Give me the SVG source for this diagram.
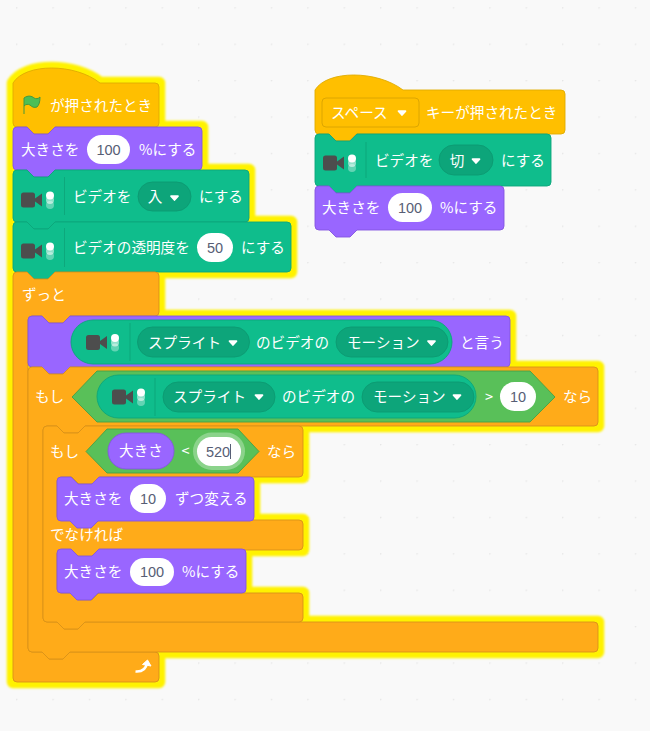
<svg xmlns="http://www.w3.org/2000/svg" width="650" height="731" viewBox="0 0 650 731">
<style>
text{font-family:"Noto Sans CJK JP","Noto Sans",sans-serif;font-size:14.6px;fill:#fff}
text.n{font-family:"Liberation Sans",Arial,sans-serif;font-size:14.5px;fill:#575E75;text-anchor:middle}
text.m{text-anchor:middle}
.hat,.ctl,.look,.vid,.op,.dd,.div{stroke-width:.9}
.hat{fill:#FFBF00;stroke:#E0AC00}
.ctl{fill:#FFAB19;stroke:#D9921A}
.look{fill:#9966FF;stroke:#8456E0}
.vid{fill:#0FBD8C;stroke:#0CA67B}
.op{fill:#59C059;stroke:#46A046}
.dd{fill:#0DA57A;stroke:#0C9A72}
.inp{fill:#fff}
.div{stroke:#0B8E69;stroke-opacity:.5;fill:none}
.glow{fill:#FFF200;stroke:#FFF200;stroke-width:12.5;stroke-linejoin:round}
</style>
<defs>
<pattern id="grid" patternUnits="userSpaceOnUse" x="16" y="80" width="36.4" height="36.4"><circle cx="0.6" cy="0.6" r="0.9" fill="#E6E6E6"/></pattern>
<filter id="soft" x="-5%" y="-5%" width="110%" height="110%"><feGaussianBlur stdDeviation="0.9"/></filter>
<g id="cam">
<rect x="0" y="-7.5" width="14" height="15" rx="2.500" fill="#4D4D4D"/>
<path d="M14 -1.500 L21 -6.500 V6.500 L14 1.500 Z" fill="#4D4D4D"/>
<circle cx="29" cy="5" r="4" fill="#fff" fill-opacity=".35"/>
<circle cx="29" cy="0" r="4" fill="#fff" fill-opacity=".55"/>
<circle cx="29" cy="-4.500" r="4" fill="#fff"/>
</g>
<path id="arr" d="M-3.500 -1.800 H3.500 L0 2 Z" fill="#fff" stroke="#fff" stroke-width="1.700" stroke-linejoin="round"/>
</defs>
<rect width="650" height="731" fill="#F9F9F9"/>
<rect width="650" height="731" fill="url(#grid)"/>

<path class="glow" filter="url(#soft)" d="M13 83 C25 63 75 63 100 83 H159 V127 H202 V170 H249 V222 H291 V272 H159 V316 H510 V367 H598 V426 H303 V477 H254 V520 H303 V550 H246 V593 H303 V622 H598 V652 H159 V682 H13 Z"/>

<g id="hat-flag">
<path class="hat" d="M13 83 C25 63 75 63 100 83 H155 a4 4 0 0 1 4 4 V123 a4 4 0 0 1 -4 4 H55 l-7 7 h-14 l-7 -7 H17 a4 4 0 0 1 -4 -4 Z"/>
<path d="M24 114 V98 C28 95 32 96 34 98 C36 99 38 99 40 97 C40 102 39 105 37 107 C34 108 32 107 30 105 C28 104 26 104 24 106" fill="#4CBF56" stroke="#45993D" stroke-linejoin="round"/>
<text x="50" y="111">が押されたとき</text>
</g>
<g id="size-100-a">
<path class="look" d="M13 131 a4 4 0 0 1 4 -4 H27 l7 7 h14 l7 -7 H198 a4 4 0 0 1 4 4 V166 a4 4 0 0 1 -4 4 H55 l-7 7 h-14 l-7 -7 H17 a4 4 0 0 1 -4 -4 Z"/>
<text x="21" y="155">大きさを</text>
<rect class="inp" x="87" y="135" width="43" height="29" rx="14.500"/>
<text class="n" x="108.500" y="155">100</text>
<text x="139" y="155">%にする</text>
</g>
<g id="video-on">
<path class="vid" d="M13 174 a4 4 0 0 1 4 -4 H27 l7 7 h14 l7 -7 H245 a4 4 0 0 1 4 4 V218 a4 4 0 0 1 -4 4 H55 l-7 7 h-14 l-7 -7 H17 a4 4 0 0 1 -4 -4 Z"/>
<use href="#cam" x="21" y="200"/>
<path class="div" d="M64.500 177 V215"/>
<text x="73" y="202">ビデオを</text>
<rect class="dd" x="138" y="182" width="53" height="29" rx="14.500"/>
<text class="m" x="155" y="202">入</text>
<use href="#arr" x="174.500" y="198"/>
<text x="199" y="202">にする</text>
</g>
<g id="video-transparency">
<path class="vid" d="M13 226 a4 4 0 0 1 4 -4 H27 l7 7 h14 l7 -7 H287 a4 4 0 0 1 4 4 V268 a4 4 0 0 1 -4 4 H55 l-7 7 h-14 l-7 -7 H17 a4 4 0 0 1 -4 -4 Z"/>
<use href="#cam" x="21" y="251"/>
<path class="div" d="M64.500 228 V267"/>
<text x="73" y="253">ビデオの透明度を</text>
<rect class="inp" x="197" y="233" width="36" height="29" rx="14.500"/>
<text class="n" x="215" y="253">50</text>
<text x="241" y="253">にする</text>
</g>
<g id="forever">
<path class="ctl" d="M13 276 a4 4 0 0 1 4 -4 H27 l7 7 h14 l7 -7 H155 a4 4 0 0 1 4 4 V312 a4 4 0 0 1 -4 4 H70 l-7 7 h-14 l-7 -7 H32 a4 4 0 0 0 -4 4 V648 a4 4 0 0 0 4 4 H42 l7 7 h14 l7 -7 H155 a4 4 0 0 1 4 4 V678 a4 4 0 0 1 -4 4 H17 a4 4 0 0 1 -4 -4 Z"/>
<text x="22" y="300">ずっと</text>
<path d="M135.500 671.500 C142 672 146 669 147 663" fill="none" stroke="#fff" stroke-width="2.600"/>
<path d="M142.500 664.500 L147.500 660 L151 666 Z" fill="#fff" stroke="#fff" stroke-linejoin="round"/>
</g>
<g id="say">
<path class="look" d="M28 320 a4 4 0 0 1 4 -4 H42 l7 7 h14 l7 -7 H506 a4 4 0 0 1 4 4 V363 a4 4 0 0 1 -4 4 H70 l-7 7 h-14 l-7 -7 H32 a4 4 0 0 1 -4 -4 Z"/>
<rect class="vid" x="71" y="320" width="381" height="44" rx="22"/>
<use href="#cam" x="86" y="342.500"/>
<path class="div" d="M130 323 V361"/>
<rect class="dd" x="137.500" y="327" width="112" height="30" rx="15"/>
<text x="148" y="348">スプライト</text>
<use href="#arr" x="233" y="343"/>
<text x="256" y="348">のビデオの</text>
<rect class="dd" x="336" y="327" width="112" height="30" rx="15"/>
<text x="347" y="348">モーション</text>
<use href="#arr" x="431.500" y="343"/>
<text x="460" y="348">と言う</text>
</g>
<g id="if-outer">
<path class="ctl" d="M28 371 a4 4 0 0 1 4 -4 H42 l7 7 h14 l7 -7 H594 a4 4 0 0 1 4 4 V422 a4 4 0 0 1 -4 4 H85 l-7 7 h-14 l-7 -7 H47 a4 4 0 0 0 -4 4 V618 a4 4 0 0 0 4 4 H57 l7 7 h14 l7 -7 H594 a4 4 0 0 1 4 4 V648 a4 4 0 0 1 -4 4 H70 l-7 7 h-14 l-7 -7 H32 a4 4 0 0 1 -4 -4 Z"/>
<text x="35" y="402">もし</text>
<path class="op" d="M72 397 L97 371 H530 L555 397 L530 422 H97 Z"/>
<rect class="vid" x="97" y="375" width="379" height="43" rx="21.500"/>
<use href="#cam" x="112" y="397"/>
<path class="div" d="M155 378 V416"/>
<rect class="dd" x="163" y="382" width="112" height="30" rx="15"/>
<text x="173" y="402">スプライト</text>
<use href="#arr" x="259" y="397"/>
<text x="282" y="402">のビデオの</text>
<rect class="dd" x="362" y="382" width="112" height="30" rx="15"/>
<text x="373" y="402">モーション</text>
<use href="#arr" x="457" y="397"/>
<text class="m" x="489" y="402">&gt;</text>
<rect class="inp" x="500" y="382" width="36" height="29" rx="14.500"/>
<text class="n" x="518" y="402">10</text>
<text x="563" y="402">なら</text>
</g>
<g id="if-inner">
<path class="ctl" d="M43 430 a4 4 0 0 1 4 -4 H57 l7 7 h14 l7 -7 H299 a4 4 0 0 1 4 4 V473 a4 4 0 0 1 -4 4 H100 l-7 7 h-14 l-7 -7 H61 a4 4 0 0 0 -4 4 V516 a4 4 0 0 0 4 4 H71 l7 7 h14 l7 -7 H299 a4 4 0 0 1 4 4 V546 a4 4 0 0 1 -4 4 H100 l-7 7 h-14 l-7 -7 H61 a4 4 0 0 0 -4 4 V589 a4 4 0 0 0 4 4 H71 l7 7 h14 l7 -7 H299 a4 4 0 0 1 4 4 V618 a4 4 0 0 1 -4 4 H85 l-7 7 h-14 l-7 -7 H47 a4 4 0 0 1 -4 -4 Z"/>
<text x="50" y="457">もし</text>
<text x="50" y="540">でなければ</text>
<path class="op" d="M86 451.500 L107 429 H238 L259 451.500 L238 473 H107 Z"/>
<rect class="look" x="108" y="433" width="66" height="36" rx="18"/>
<text class="m" x="141" y="456">大きさ</text>
<text class="m" x="185.500" y="456">&lt;</text>
<rect x="193" y="432.500" width="52" height="37.500" rx="18.750" fill="#fff" fill-opacity=".3"/>
<rect class="inp" x="197" y="437" width="44" height="29" rx="14.500"/>
<text class="n" x="218" y="457">520</text>
<path d="M230.500 444 V459" stroke="#575E75" fill="none"/>
<text x="267" y="457">なら</text>
</g>
<g id="change-size">
<path class="look" d="M57 481 a4 4 0 0 1 4 -4 H71 l7 7 h14 l7 -7 H250 a4 4 0 0 1 4 4 V517 a4 4 0 0 1 -4 4 H98 l-7 7 h-14 l-7 -7 H61 a4 4 0 0 1 -4 -4 Z"/>
<text x="64" y="504">大きさを</text>
<rect class="inp" x="130" y="484" width="36" height="29" rx="14.500"/>
<text class="n" x="148" y="504">10</text>
<text x="175" y="504">ずつ変える</text>
</g>
<g id="size-100-b">
<path class="look" d="M57 553 a4 4 0 0 1 4 -4 H71 l7 7 h14 l7 -7 H242 a4 4 0 0 1 4 4 V589 a4 4 0 0 1 -4 4 H98 l-7 7 h-14 l-7 -7 H61 a4 4 0 0 1 -4 -4 Z"/>
<text x="64" y="577">大きさを</text>
<rect class="inp" x="130" y="558" width="44" height="28" rx="14"/>
<text class="n" x="152" y="577">100</text>
<text x="182" y="577">%にする</text>
</g>

<g id="hat-space">
<path class="hat" d="M315 90 C327 70 377 70 403 90 H561 a4 4 0 0 1 4 4 V130 a4 4 0 0 1 -4 4 H356 l-7 7 h-14 l-7 -7 H319 a4 4 0 0 1 -4 -4 Z"/>
<rect x="322" y="98" width="97" height="29" rx="4" fill="#FFBF00" stroke="#DDA600"/>
<text x="331" y="118">スペース</text>
<use href="#arr" x="402" y="113"/>
<text x="426" y="118">キーが押されたとき</text>
</g>
<g id="video-off">
<path class="vid" d="M315 138 a4 4 0 0 1 4 -4 H329 l7 7 h14 l7 -7 H547 a4 4 0 0 1 4 4 V182 a4 4 0 0 1 -4 4 H357 l-7 7 h-14 l-7 -7 H319 a4 4 0 0 1 -4 -4 Z"/>
<use href="#cam" x="323" y="163"/>
<path class="div" d="M366 142 V178"/>
<text x="375" y="166">ビデオを</text>
<rect class="dd" x="439" y="145" width="54" height="30" rx="15"/>
<text class="m" x="457" y="166">切</text>
<use href="#arr" x="476" y="161"/>
<text x="501" y="166">にする</text>
</g>
<g id="size-100-c">
<path class="look" d="M315 190 a4 4 0 0 1 4 -4 H329 l7 7 h14 l7 -7 H500 a4 4 0 0 1 4 4 V226 a4 4 0 0 1 -4 4 H357 l-7 7 h-14 l-7 -7 H319 a4 4 0 0 1 -4 -4 Z"/>
<text x="322" y="213">大きさを</text>
<rect class="inp" x="388" y="193" width="44" height="29" rx="14.500"/>
<text class="n" x="410" y="213">100</text>
<text x="440" y="213">%にする</text>
</g>
</svg>
